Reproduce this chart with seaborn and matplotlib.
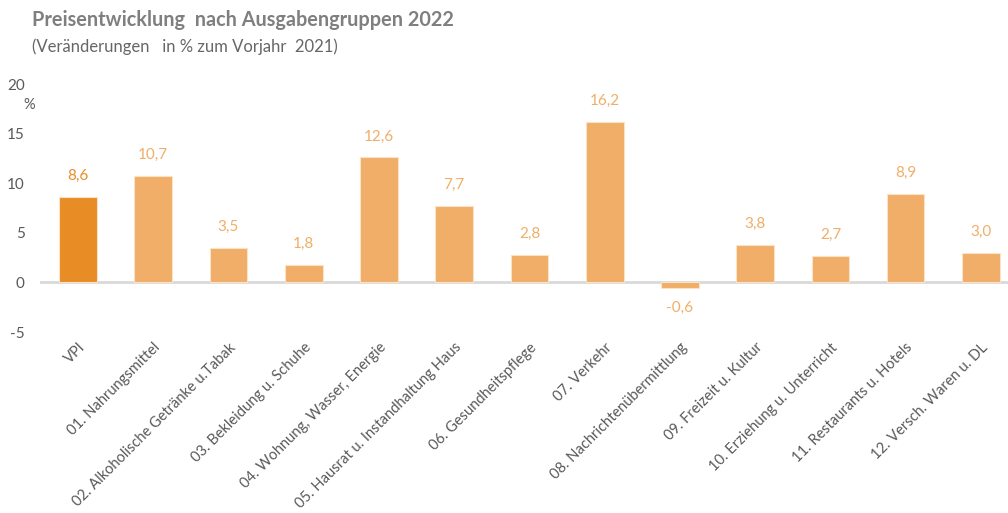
import matplotlib
matplotlib.use("Agg")
import matplotlib.pyplot as plt
import seaborn as sns
import pandas as pd

# Data
categories = [
    "VPI",
    "01. Nahrungsmittel",
    "02. Alkoholische Getränke u.Tabak",
    "03. Bekleidung u. Schuhe",
    "04. Wohnung, Wasser, Energie",
    "05. Hausrat u. Instandhaltung Haus",
    "06. Gesundheitspflege",
    "07. Verkehr",
    "08. Nachrichtenübermittlung",
    "09. Freizeit u. Kultur",
    "10. Erziehung u. Unterricht",
    "11. Restaurants u. Hotels",
    "12. Versch. Waren u. DL",
]
values = [8.6, 10.7, 3.5, 1.8, 12.6, 7.7, 2.8, 16.2, -0.6, 3.8, 2.7, 8.9, 3.0]
y_ticks = [-5, 0, 5, 10, 15, 20]

vpi_color = "#E88C26"
group_color = "#F0AE68"
text_gray = "#595959"

df = pd.DataFrame({"Gruppe": categories, "Wert": values})
colors = {c: (vpi_color if c == "VPI" else group_color) for c in categories}

sns.set_style("white")
plt.rcParams["font.family"] = ["Lato", "DejaVu Sans"]

fig = plt.figure(figsize=(10.08, 5.13), dpi=100)
ax = fig.add_axes([40 / 1008, 1 - 332 / 513, 968 / 1008, (332 - 84) / 513])

sns.barplot(data=df, x="Gruppe", y="Wert", hue="Gruppe", palette=colors,
            legend=False, width=0.5, ax=ax, edgecolor="#FCE3C6", linewidth=0.8,
            saturation=1)

ax.set_ylim(-5, 20)
ax.set_xlim(-0.505, 12.36)
ax.set_yticks(y_ticks)
ax.set_yticklabels([str(t) for t in y_ticks], fontsize=11, color=text_gray)
ax.tick_params(axis="y", length=0, pad=11)
ax.tick_params(axis="x", length=0, pad=6)
ax.set_xticks(range(len(categories)))
ax.set_xticklabels(categories, rotation=45, ha="right", rotation_mode="anchor",
                   fontsize=10.5, color=text_gray)
ax.set_xlabel("")
ax.set_ylabel("")
for s in ax.spines.values():
    s.set_visible(False)
ax.axhline(0, color="#D9D9D9", linewidth=2, zorder=0.5)

# Value labels
for i, v in enumerate(values):
    col = vpi_color if i == 0 else group_color
    lbl = f"{v:.1f}".replace(".", ",")
    if v >= 0:
        ax.annotate(lbl, (i, v), xytext=(0, 10), textcoords="offset points",
                    ha="center", va="bottom", fontsize=11, color=col)
    else:
        ax.annotate(lbl, (i, v), xytext=(0, -9), textcoords="offset points",
                    ha="center", va="top", fontsize=11, color=col)

fig.text(23 / 1008, 1 - 105 / 513, "%", fontsize=10.5, color=text_gray, va="center")
fig.text(32 / 1008, 1 - 20 / 513, "Preisentwicklung  nach Ausgabengruppen 2022",
         fontsize=14.3, fontweight="bold", color="#7F7F7F", va="center")
fig.text(32 / 1008, 1 - 47 / 513, "(Veränderungen   in % zum Vorjahr  2021)",
         fontsize=12, color="#666666", va="center")

fig.savefig("out.png", dpi=100)
